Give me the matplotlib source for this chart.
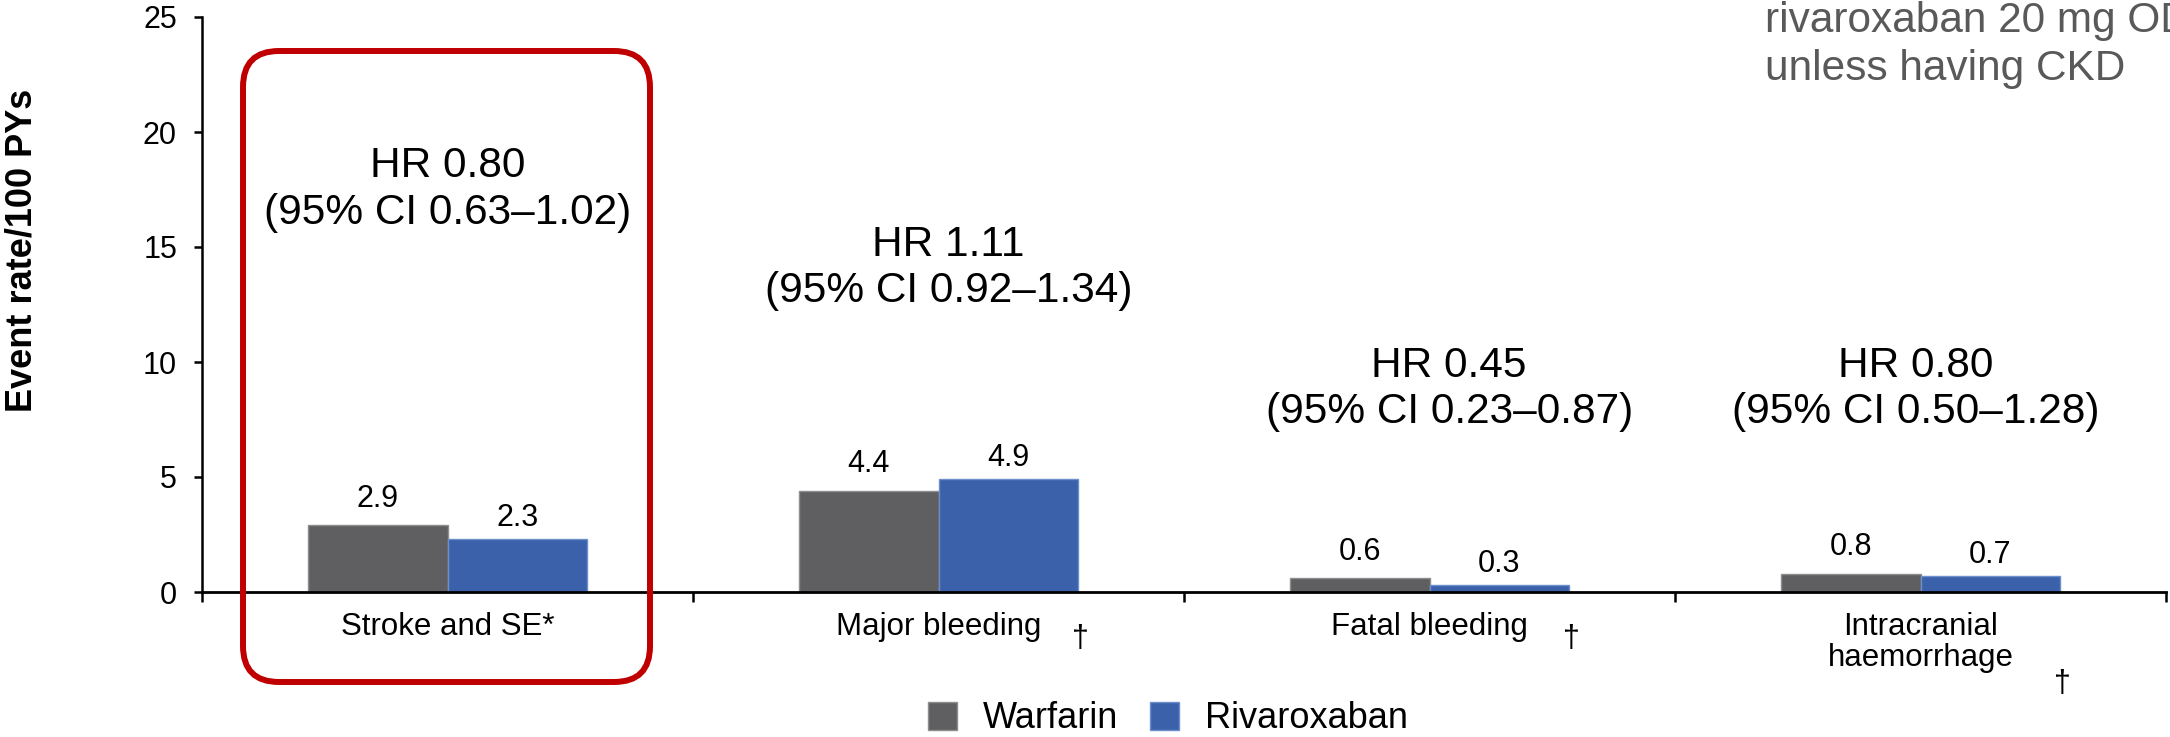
import matplotlib
matplotlib.use("Agg")
import matplotlib.pyplot as plt
import numpy as np
from matplotlib.patches import FancyBboxPatch

plt.rcParams['font.family'] = ['Liberation Sans', 'DejaVu Sans']

# Event rates per 100 patient-years
categories = ["Stroke and SE*", "Major bleeding", "Fatal bleeding", "Intracranial\nhaemorrhage"]
warfarin = [2.9, 4.4, 0.6, 0.8]
rivaroxaban = [2.3, 4.9, 0.3, 0.7]
hr_labels = ["HR 0.80\n(95% CI 0.63\u20131.02)",
             "HR 1.11\n(95% CI 0.92\u20131.34)",
             "HR 0.45\n(95% CI 0.23\u20130.87)",
             "HR 0.80\n(95% CI 0.50\u20131.28)"]
dagger = [False, True, True, True]
y_ticks = [0, 5, 10, 15, 20, 25]

# layout of the hazard-ratio annotations (x offset, y in data units)
hr_dx = [0.0, 0.02, 0.04, -0.01]
hr_y = [17.5, 14.07, 8.83, 8.83]

gray = "#5f5f61"
blue = "#3a61aa"

fig = plt.figure(figsize=(21.7, 7.37), dpi=100)
ax = fig.add_axes([202 / 2170, 145 / 737, 1964 / 2170, 575 / 737])

x = np.arange(len(categories))
w = 0.285
b1 = ax.bar(x - w / 2, warfarin, w, color=gray, edgecolor="#8e8e90", linewidth=1.0, label="Warfarin")
b2 = ax.bar(x + w / 2, rivaroxaban, w, color=blue, edgecolor="#6d8fca", linewidth=1.0, label="Rivaroxaban")

for xi, v in zip(x - w / 2, warfarin):
    ax.annotate(f"{v:.1f}", (xi, v), xytext=(0, 19), textcoords="offset points",
                ha="center", va="center", fontsize=22)
for xi, v in zip(x + w / 2, rivaroxaban):
    ax.annotate(f"{v:.1f}", (xi, v), xytext=(0, 15), textcoords="offset points",
                ha="center", va="center", fontsize=22)

for i, t in enumerate(hr_labels):
    ax.text(x[i] + hr_dx[i], hr_y[i], t, ha="center", va="center", fontsize=30.5,
            linespacing=1.2)

# daggers beside the bleeding outcome labels
for i, d in enumerate(dagger):
    if d:
        two_line = "\n" in categories[i]
        ax.annotate("\u2020", (x[i] + 0.29, 0), xytext=(0, -66 if two_line else -34),
                    textcoords="offset points", ha="center", va="center",
                    fontsize=22, annotation_clip=False)

ax.set_xlim(-0.5, 3.5)
ax.set_ylim(0, 25)
ax.set_yticks(y_ticks)
ax.set_xticks(x)
ax.set_xticklabels(categories, fontsize=22.5, linespacing=1.05)
ax.set_xticks(np.arange(-0.5, 4.0, 1.0), minor=True)
ax.tick_params(axis="x", which="major", length=0, pad=14.5)
ax.tick_params(axis="x", which="minor", length=7, width=1.8, direction="out")
ax.tick_params(axis="y", length=6, width=1.8, labelsize=22, pad=12, direction="out")

for s in ["top", "right"]:
    ax.spines[s].set_visible(False)
ax.spines["left"].set_linewidth(1.8)
ax.spines["bottom"].set_linewidth(2.0)

fig.text(22 / 2170, (737 - 250) / 737, "Event rate/100 PYs", rotation=90,
         ha="center", va="center", fontsize=26, fontweight="bold")

# highlight box around the primary efficacy outcome
box = FancyBboxPatch((2.43, 0.55), 4.07, 6.31,
                     boxstyle="round,pad=0,rounding_size=0.36",
                     transform=fig.dpi_scale_trans, fill=False,
                     edgecolor="#c00000", linewidth=4.3, clip_on=False)
fig.add_artist(box)

fig.text(1765 / 2170, (737 - 32) / 737, "rivaroxaban 20 mg OD", color="#595959",
         fontsize=30.5, ha="left", va="baseline")
fig.text(1765 / 2170, (737 - 80) / 737, "unless having CKD", color="#595959",
         fontsize=30.5, ha="left", va="baseline")

fig.legend(handles=[b1, b2], labels=["Warfarin", "Rivaroxaban"], ncol=2,
           loc="center", bbox_to_anchor=(1168 / 2170, 18 / 737), frameon=False,
           fontsize=26, handlelength=0.8, handleheight=0.8, handletextpad=0.7,
           columnspacing=0.9, borderpad=0, borderaxespad=0)

fig.savefig("out.png", dpi=100)
